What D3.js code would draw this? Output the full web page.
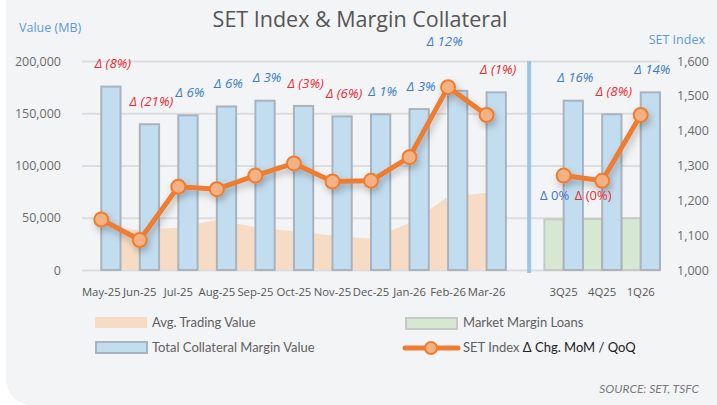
<!DOCTYPE html>
<html>
<head>
<meta charset="utf-8">
<script src="https://cdn.jsdelivr.net/npm/d3@7"></script>
<style>
  html, body { margin: 0; padding: 0; background: #ffffff; }
  svg { display: block; font-family: "Open Sans", "Noto Sans", sans-serif; }
</style>
</head>
<body>
<div id="chart"></div>
<script>
// categories ("" is the empty slot where the divider sits)
var categories = ["May-25", "Jun-25", "Jul-25", "Aug-25", "Sep-25", "Oct-25", "Nov-25", "Dec-25", "Jan-26", "Feb-26", "Mar-26", "", "3Q25", "4Q25", "1Q26"];
var collateral = [175500, 139500, 148000, 156500, 162000, 157000, 147000, 149000, 154000, 171500, 170000, null, 162000, 149000, 170000];
var marginLoans = [null, null, null, null, null, null, null, null, null, null, null, null, 48500, 48700, 49500];
var avgTrading = [38000, 38500, 40500, 48000, 41000, 37000, 33000, 30000, 45000, 70000, 74000, null, null, null, null];
var setIndex = [1145, 1086, 1239, 1232, 1271, 1306, 1254, 1256, 1324, 1525, 1445, null, 1271, 1256, 1445];
var chgLabels = ["Δ (8%)", "Δ (21%)", "Δ 6%", "Δ 6%", "Δ 3%", "Δ (3%)", "Δ (6%)", "Δ 1%", "Δ 3%", "Δ 12%", "Δ (1%)", "", "Δ 16%", "Δ (8%)", "Δ 14%"];
var setChgLabels = ["", "", "", "", "", "", "", "", "", "", "", "", "Δ 0%", "Δ (0%)", ""];
var leftTicks = [0, 50000, 100000, 150000, 200000];
var rightTicks = [1000, 1100, 1200, 1300, 1400, 1500, 1600];

var width = 717, height = 405;
var plot = { left: 82, right: 660, top: 61, bottom: 270 };

var svg = d3.select("#chart").append("svg")
    .attr("width", width)
    .attr("height", height);

var defs = svg.append("defs");
var shadow = defs.append("filter").attr("id", "lineShadow")
    .attr("x", "-10%").attr("y", "-20%").attr("width", "130%").attr("height", "150%");
shadow.append("feDropShadow")
    .attr("dx", 2).attr("dy", 4).attr("stdDeviation", 3.5)
    .attr("flood-color", "#000").attr("flood-opacity", 0.25);

// card background
svg.append("rect")
    .attr("x", 6).attr("y", -40)
    .attr("width", 760).attr("height", height + 40)
    .attr("rx", 26)
    .style("fill", "#f3f4f6");

var x = d3.scaleBand().domain(categories).range([plot.left, plot.right]).padding(0);
var yL = d3.scaleLinear().domain([0, 200000]).range([plot.bottom, plot.top]);
var yR = d3.scaleLinear().domain([1000, 1600]).range([plot.bottom, plot.top]);
var cx = function (c) { return x(c) + x.bandwidth() / 2; };
var barW = x.bandwidth() * 0.5;

// gridlines
svg.append("g")
    .attr("transform", "translate(" + plot.left + ",0)")
    .call(d3.axisLeft(yL).tickValues(leftTicks).tickSize(-(plot.right - plot.left)).tickFormat(""))
    .call(function (g) { g.select(".domain").remove(); })
    .selectAll("line")
    .style("stroke", "#dcdde0")
    .style("stroke-width", 2);

// left axis labels
svg.append("g")
    .attr("transform", "translate(61,0)")
    .call(d3.axisLeft(yL).tickValues(leftTicks).tickSize(0).tickPadding(0).tickFormat(d3.format(",")))
    .call(function (g) { g.select(".domain").remove(); })
    .selectAll("text")
    .style("font-family", "'Open Sans', sans-serif")
    .style("font-size", "12.5px")
    .style("fill", "#6b6b6b");

// right axis labels
svg.append("g")
    .attr("transform", "translate(677,0)")
    .call(d3.axisRight(yR).tickValues(rightTicks).tickSize(0).tickPadding(0).tickFormat(d3.format(",")))
    .call(function (g) { g.select(".domain").remove(); })
    .selectAll("text")
    .style("font-family", "'Open Sans', sans-serif")
    .style("font-size", "12.5px")
    .style("fill", "#6b6b6b");

// avg trading value area (monthly part only)
var areaIdx = categories.map(function (c, i) { return i; }).filter(function (i) { return avgTrading[i] != null; });
svg.append("path")
    .datum(areaIdx)
    .attr("d", d3.area()
        .x(function (i) { return cx(categories[i]); })
        .y0(yL(0))
        .y1(function (i) { return yL(avgTrading[i]); }))
    .style("fill", "#f7dcc5");

// market margin loans (left of the category centre)
svg.append("g").selectAll("rect")
    .data(categories.map(function (c, i) { return { c: c, v: marginLoans[i] }; }).filter(function (d) { return d.v != null; }))
    .join("rect")
    .attr("x", function (d) { return cx(d.c) - barW; })
    .attr("y", function (d) { return yL(d.v); })
    .attr("width", barW)
    .attr("height", function (d) { return yL(0) - yL(d.v); })
    .style("fill", "#d6e8d2")
    .style("stroke", "#c4cbc6")
    .style("stroke-width", 2);

// total collateral margin value (right of the category centre)
svg.append("g").selectAll("rect")
    .data(categories.map(function (c, i) { return { c: c, v: collateral[i] }; }).filter(function (d) { return d.v != null; }))
    .join("rect")
    .attr("x", function (d) { return cx(d.c); })
    .attr("y", function (d) { return yL(d.v); })
    .attr("width", barW)
    .attr("height", function (d) { return yL(0) - yL(d.v); })
    .style("fill", "#c3ddf0")
    .style("stroke", "#a9b3bd")
    .style("stroke-width", 2);

// divider between monthly and quarterly
svg.append("line")
    .attr("x1", cx("") + 4).attr("x2", cx("") + 4)
    .attr("y1", yL(200000)).attr("y2", yL(0) + 3)
    .style("stroke", "#9fc3e7")
    .style("stroke-width", 4);

// x labels
svg.append("g")
    .attr("transform", "translate(0," + (plot.bottom + 22) + ")")
    .call(d3.axisBottom(x).tickSize(0).tickPadding(0).tickFormat(function (d) { return d; }))
    .call(function (g) { g.select(".domain").remove(); })
    .selectAll("text")
    .attr("dy", "0.35em")
    .style("font-family", "'Open Sans', sans-serif")
    .style("font-size", "11.3px")
    .style("fill", "#555555");

// SET index line, split at the empty slot
var pts = categories.map(function (c, i) { return { c: c, v: setIndex[i] }; });
var line = d3.line()
    .defined(function (d) { return d.v != null; })
    .x(function (d) { return cx(d.c); })
    .y(function (d) { return yR(d.v); });

var lineG = svg.append("g").attr("filter", "url(#lineShadow)");
lineG.append("path")
    .datum(pts)
    .attr("d", line)
    .style("fill", "none")
    .style("stroke", "#ee7d31")
    .style("stroke-width", 5)
    .style("stroke-linejoin", "round");
lineG.selectAll("circle")
    .data(pts.filter(function (d) { return d.v != null; }))
    .join("circle")
    .attr("cx", function (d) { return cx(d.c); })
    .attr("cy", function (d) { return yR(d.v); })
    .attr("r", 7)
    .style("fill", "#f4b183")
    .style("stroke", "#ee7d31")
    .style("stroke-width", 2);

// change labels above the collateral bars
var nudge = { "Feb-26": [-15, -26] };
svg.append("g").selectAll("text")
    .data(categories.map(function (c, i) { return { c: c, t: chgLabels[i], v: collateral[i] }; }).filter(function (d) { return d.t; }))
    .join("text")
    .attr("x", function (d) { return cx(d.c) + barW / 2 + 2 + (nudge[d.c] ? nudge[d.c][0] : 0); })
    .attr("y", function (d) { return yL(d.v) - 23 + (nudge[d.c] ? nudge[d.c][1] : 0); })
    .attr("dy", "0.35em")
    .attr("text-anchor", "middle")
    .style("font-size", "13.3px")
    .style("font-style", "italic")
    .style("fill", function (d) { return d.t.indexOf("(") >= 0 ? "#ee2a33" : "#3a7dc5"; })
    .text(function (d) { return d.t; });

// SET index change labels under the quarterly markers (one row)
var setLab = categories.map(function (c, i) { return { c: c, t: setChgLabels[i], v: setIndex[i] }; }).filter(function (d) { return d.t; });
var setLabY = yR(d3.min(setLab, function (d) { return d.v; })) + 15;
svg.append("g").selectAll("text")
    .data(setLab)
    .join("text")
    .attr("x", function (d) { return cx(d.c) - 9; })
    .attr("y", setLabY)
    .attr("dy", "0.35em")
    .attr("text-anchor", "middle")
    .style("font-size", "13px")
    .style("fill", function (d) { return d.t.indexOf("(") >= 0 ? "#ee2a33" : "#4472c4"; })
    .text(function (d) { return d.t; });

// titles
svg.append("text")
    .attr("x", 360).attr("y", 19)
    .attr("dy", "0.35em")
    .attr("text-anchor", "middle")
    .style("font-size", "21.5px")
    .style("fill", "#555555")
    .text("SET Index & Margin Collateral");
svg.append("text")
    .attr("x", 19).attr("y", 28)
    .attr("dy", "0.35em")
    .style("font-size", "12.5px")
    .style("fill", "#5b9bd5")
    .text("Value (MB)");
svg.append("text")
    .attr("x", 705).attr("y", 40)
    .attr("dy", "0.35em")
    .attr("text-anchor", "end")
    .style("font-size", "12.5px")
    .style("fill", "#5b9bd5")
    .text("SET Index");

// legend
var legend = svg.append("g").style("font-family", "Lato, sans-serif").style("font-size", "13px");
legend.append("rect").attr("x", 95).attr("y", 317).attr("width", 52).attr("height", 11).style("fill", "#f7dcc5");
legend.append("text").attr("x", 152).attr("y", 322).attr("dy", "0.35em").style("fill", "#5f5f5f").text("Avg. Trading Value");
legend.append("rect").attr("x", 96).attr("y", 342).attr("width", 51).attr("height", 11).style("fill", "#c3ddf0").style("stroke", "#a9b3bd").style("stroke-width", 2);
legend.append("text").attr("x", 152).attr("y", 347).attr("dy", "0.35em").style("fill", "#5f5f5f").text("Total Collateral Margin Value");
legend.append("rect").attr("x", 406).attr("y", 318).attr("width", 51).attr("height", 11).style("fill", "#d6e8d2").style("stroke", "#c4cbc6").style("stroke-width", 2);
legend.append("text").attr("x", 463).attr("y", 322).attr("dy", "0.35em").style("fill", "#5f5f5f").text("Market Margin Loans");
legend.append("line").attr("x1", 405).attr("x2", 458).attr("y1", 348).attr("y2", 348).style("stroke", "#ee7d31").style("stroke-width", 5).style("stroke-linecap", "round");
legend.append("circle").attr("cx", 431).attr("cy", 348).attr("r", 6).style("fill", "#f4b183").style("stroke", "#ee7d31").style("stroke-width", 2);
var lt = legend.append("text").attr("x", 463).attr("y", 347).attr("dy", "0.35em");
lt.append("tspan").style("fill", "#5f5f5f").text("SET Index ");
lt.append("tspan").style("fill", "#222222").text("Δ Chg. MoM / QoQ");

svg.append("text")
    .attr("x", 699).attr("y", 389)
    .attr("dy", "0.35em")
    .attr("text-anchor", "end")
    .style("font-family", "Lato, sans-serif")
    .style("font-size", "12px")
    .style("font-style", "italic")
    .style("fill", "#7a7a7a")
    .text("SOURCE: SET, TSFC");
</script>
</body>
</html>
